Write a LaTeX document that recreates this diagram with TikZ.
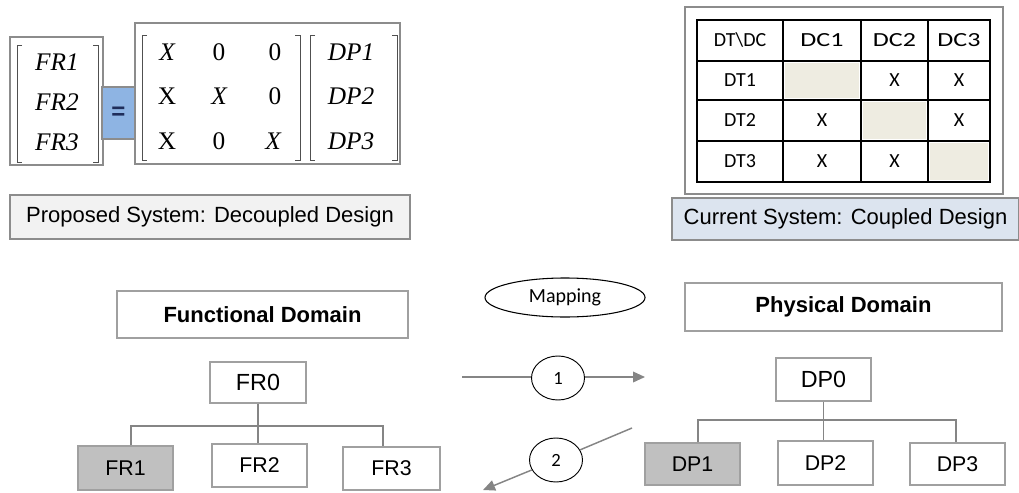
\documentclass[tikz,border=0pt]{standalone}
\usepackage{fontspec}
\setmainfont{Liberation Serif}
\newfontfamily\arialf{Liberation Sans}
\newfontfamily\calf{Carlito}
\newfontfamily\calwide[FakeStretch=1.3]{Carlito}
\usetikzlibrary{arrows.meta,shapes.geometric}
\definecolor{boxgray}{HTML}{A0A0A0}
\definecolor{framegray}{HTML}{8C8C8C}
\definecolor{linegray}{HTML}{858585}
\definecolor{nodefill}{HTML}{C0C0C0}
\definecolor{cellfill}{HTML}{EEECE1}
\definecolor{propfill}{HTML}{F2F2F2}
\definecolor{curfill}{HTML}{DCE4EF}
\definecolor{eqfill}{HTML}{8EB4E3}
\definecolor{eqnavy}{HTML}{1F2D5A}
\definecolor{brk}{HTML}{505050}
\begin{document}
\begin{tikzpicture}[x=0.75pt,y=-0.75pt,
  wh/.style 2 args={minimum width=#1*0.75pt, minimum height=#2*0.75pt},
  nodebox/.style={draw=boxgray, line width=0.8pt, inner sep=0pt, fill=white,
    font=\arialf\fontsize{16}{18}\selectfont},
  framebox/.style={draw=framegray, line width=1.3pt, inner sep=0pt},
  domainbox/.style={nodebox, font=\arialf\bfseries\fontsize{16.5}{18}\selectfont},
  labelbox/.style={draw=framegray, line width=1pt, inner sep=0pt,
    font=\arialf\fontsize{16.5}{18}\selectfont},
  mtxt/.style={inner sep=0pt, font=\fontsize{19}{21}\selectfont},
  ttxt/.style={inner sep=0pt, font=\calf\fontsize{15}{17}\selectfont},
  htxt/.style={inner sep=0pt, font=\calwide\fontsize{15}{17}\selectfont},
  bracketline/.style={draw=brk, line width=0.6pt},
  treeline/.style={draw=linegray, line width=1.1pt},
  flowline/.style={draw=linegray, line width=1.1pt},
  arrowtip/.style={-{Triangle[length=9pt,width=8pt]}},
  numcircle/.style={ellipse, draw=black, line width=0.7pt, fill=white, inner sep=0pt,
    font=\calf\fontsize{14}{16}\selectfont}
]
\useasboundingbox (0,0) rectangle (1019,492);

% ---------- top left: design matrix ----------
\node[framebox, wh={93}{128}] (frvec) at (56.5,101) {};
\node[framebox, wh={265}{141}] (mat) at (267.5,93.5) {};
\node[draw=framegray, line width=2.2pt, fill=eqfill, wh={33}{52}, inner sep=0pt,
  font=\arialf\bfseries\fontsize{18}{18}\selectfont, text=eqnavy] (eq) at (118.5,113) {=};

\path[bracketline] (22,45) -- (17,45) -- (17,162) -- (22,162);
\path[bracketline] (93,45) -- (98,45) -- (98,162) -- (93,162);
\path[bracketline] (147,35) -- (142,35) -- (142,160) -- (147,160);
\path[bracketline] (295,35) -- (300,35) -- (300,160) -- (295,160);
\path[bracketline] (315,35) -- (310,35) -- (310,160) -- (315,160);
\path[bracketline] (392,35) -- (397,35) -- (397,160) -- (392,160);

\node[mtxt] (fr1t) at (57,62) {\itshape FR1};
\node[mtxt] (fr2t) at (57,102) {\itshape FR2};
\node[mtxt] (fr3t) at (57,142) {\itshape FR3};

\node[mtxt] (m11) at (167,52) {\itshape X};
\node[mtxt] (m12) at (219,52) {0};
\node[mtxt] (m13) at (275,52) {0};
\node[mtxt] (m21) at (167,96) {X};
\node[mtxt] (m22) at (219,96) {\itshape X};
\node[mtxt] (m23) at (275,96) {0};
\node[mtxt] (m31) at (167,141) {X};
\node[mtxt] (m32) at (219,141) {0};
\node[mtxt] (m33) at (273,141) {\itshape X};

\node[mtxt] (dp1t) at (351,52) {\itshape DP1};
\node[mtxt] (dp2t) at (351,96) {\itshape DP2};
\node[mtxt] (dp3t) at (351,141) {\itshape DP3};

\node[labelbox, fill=propfill, wh={400}{44}] (proposed) at (210,217) {Proposed System: Decoupled Design};

% ---------- top right: design structure table ----------
\node[framebox, wh={318}{187}] (tabbox) at (844,100.5) {};
\fill[cellfill] (785,63) rectangle (859,98);
\fill[cellfill] (863,102) rectangle (926,139);
\fill[cellfill] (930,143) rectangle (988,180);
\draw[black, line width=0.9pt] (697,20) rectangle (990,182);
\foreach \xx in {783,861,928} \draw[black, line width=0.9pt] (\xx,20) -- (\xx,182);
\foreach \yy in {61,100,141} \draw[black, line width=0.9pt] (697,\yy) -- (990,\yy);
\node[ttxt] (h0) at (740,40) {DT\textbackslash DC};
\node[htxt] (h1) at (822,40.5) {DC1};
\node[htxt] (h2) at (894.5,40.5) {DC2};
\node[htxt] (h3) at (959,40.5) {DC3};
\node[ttxt] (r1) at (740,80.5) {DT1};
\node[ttxt] (r2) at (740,120.5) {DT2};
\node[ttxt] (r3) at (740,161.5) {DT3};
\node[ttxt] (x12) at (894.5,80.5) {X};
\node[ttxt] (x13) at (959,80.5) {X};
\node[ttxt] (x21) at (822,120.5) {X};
\node[ttxt] (x23) at (959,120.5) {X};
\node[ttxt] (x31) at (822,161.5) {X};
\node[ttxt] (x32) at (894.5,161.5) {X};

\node[labelbox, fill=curfill, wh={347}{42}] (current) at (845.5,219) {Current System: Coupled Design};

% ---------- domains ----------
\node[domainbox, wh={291}{47}] (fdom) at (262.5,314.5) {Functional Domain};
\node[domainbox, wh={317}{48}] (pdom) at (843.5,307) {Physical Domain};
\node[ellipse, draw=black, line width=0.8pt, wh={160}{39}, inner sep=0pt,
  font=\calf\fontsize{15}{17}\selectfont] (map) at (565,297.5) {Mapping};

% ---------- FR tree ----------
\node[nodebox, wh={96}{41}, font=\arialf\fontsize{17.5}{19}\selectfont] (fr0) at (258,382.5) {FR0};
\node[nodebox, fill=nodefill, wh={95}{44}] (fr1) at (125.5,468) {FR1};
\node[nodebox, wh={95}{43}] (fr2) at (259.5,465.5) {FR2};
\node[nodebox, wh={97}{43}] (fr3) at (391.5,468.5) {FR3};
\coordinate (fj1) at (131,426);
\coordinate (fj3) at (383,426);
\path[treeline] (fr0.south) -- (fr0.south |- fr2.north);
\path[treeline] (fj1 |- fr1.north) -- (fj1) -- (fj3) -- (fj3 |- fr3.north);

% ---------- DP tree ----------
\node[nodebox, wh={95}{43}, font=\arialf\fontsize{17.5}{19}\selectfont] (dp0) at (823.5,379.5) {DP0};
\node[nodebox, fill=nodefill, wh={95}{42}] (dp1) at (692.5,464) {DP1};
\node[nodebox, wh={95}{44}] (dp2) at (825.5,463) {DP2};
\node[nodebox, wh={95}{42}] (dp3) at (957.5,464) {DP3};
\coordinate (dj1) at (698,420);
\coordinate (dj3) at (956,420);
\path[treeline] (dp0.south) -- (dp0.south |- dp2.north);
\path[treeline] (dj1 |- dp1.north) -- (dj1) -- (dj3) -- (dj3 |- dp3.north);

% ---------- mapping arrows ----------
\coordinate (a1s) at (462,377);
\coordinate (a1e) at (645,377);
\node[numcircle, wh={53}{44}] (c1) at (558,378) {1};
\path[flowline] (a1s) -- (c1.west |- a1s);
\path[flowline, arrowtip, fill=linegray] (c1.east |- a1e) -- (a1e);

\coordinate (a2s) at (632,428);
\coordinate (a2e) at (483,490);
\node[numcircle, wh={53}{44}] (c2) at (556,460) {2};
\path[flowline] (a2s) -- (c2);
\path[flowline, arrowtip, fill=linegray] (c2) -- (a2e);
\end{tikzpicture}
\end{document}
